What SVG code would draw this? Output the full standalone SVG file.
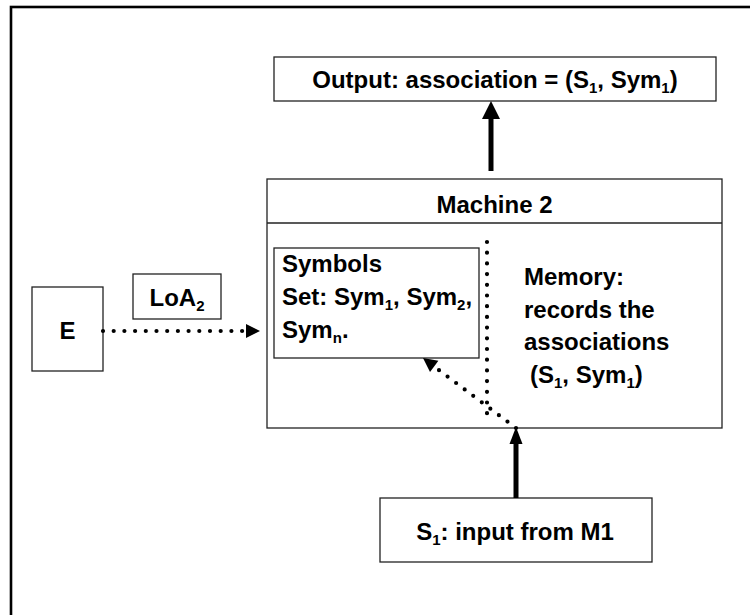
<svg xmlns="http://www.w3.org/2000/svg" width="750" height="615" viewBox="0 0 750 615">
<style>
.box{fill:#fff;stroke:#222;stroke-width:1.3}
.t{font-family:"Liberation Sans",Arial,sans-serif;font-weight:bold;font-size:24px;fill:#000}
.s{font-size:15px}
.dot{fill:none;stroke:#000;stroke-width:4.2;stroke-linecap:round;stroke-dasharray:0 10.7}
.thick{fill:none;stroke:#000;stroke-width:5}
</style>
<rect width="750" height="615" fill="#fff"/>
<rect x="11" y="7" width="770" height="640" fill="none" stroke="#000" stroke-width="2.6"/>

<g id="output">
<rect class="box" x="274" y="57" width="442" height="44"/>
<text class="t" x="495" y="88" text-anchor="middle">Output: association = (S<tspan class="s" dy="5">1</tspan><tspan dy="-5">, Sym</tspan><tspan class="s" dy="5">1</tspan><tspan dy="-5">)</tspan></text>
</g>

<g id="machine2">
<rect class="box" x="267" y="179" width="455" height="249"/>
<line x1="267" y1="223" x2="722" y2="223" stroke="#222" stroke-width="1.3"/>
<text class="t" x="494.5" y="213" text-anchor="middle">Machine 2</text>
</g>

<g id="symbols">
<rect class="box" x="274" y="248" width="205" height="110"/>
<text class="t" x="282" y="272">Symbols</text>
<text class="t" x="282" y="305">Set: Sym<tspan class="s" dy="5">1</tspan><tspan dy="-5">, Sym</tspan><tspan class="s" dy="5">2</tspan><tspan dy="-5">,</tspan></text>
<text class="t" x="282" y="338">Sym<tspan class="s" dy="5">n</tspan><tspan dy="-5">.</tspan></text>
</g>

<g id="memory">
<text class="t" x="524" y="285">Memory:</text>
<text class="t" x="524" y="318">records the</text>
<text class="t" x="524" y="350">associations</text>
<text class="t" x="530" y="383">(S<tspan class="s" dy="5">1</tspan><tspan dy="-5">, Sym</tspan><tspan class="s" dy="5">1</tspan><tspan dy="-5">)</tspan></text>
</g>

<g id="E">
<rect class="box" x="32" y="287" width="71" height="84"/>
<text class="t" x="67.5" y="339" text-anchor="middle">E</text>
</g>

<g id="LoA2">
<rect class="box" x="133" y="274" width="88" height="45"/>
<text class="t" x="177" y="306" text-anchor="middle">LoA<tspan class="s" dy="5">2</tspan></text>
</g>

<g id="input">
<rect class="box" x="380" y="498" width="272" height="64"/>
<text class="t" x="515" y="540" text-anchor="middle">S<tspan class="s" dy="5">1</tspan><tspan dy="-5">: input from M1</tspan></text>
</g>

<g id="connectors">
<line class="thick" x1="491" y1="171" x2="491" y2="116"/>
<polygon points="491,101 482,119 500,119" fill="#000"/>
<line class="thick" x1="516" y1="498" x2="516" y2="440"/>
<polygon points="516,427 509.5,444 522.5,444" fill="#000"/>
<line class="dot" x1="103" y1="331" x2="248" y2="331"/>
<polygon points="260,331 246,324 246,338" fill="#000"/>
<line class="dot" x1="487" y1="242" x2="487" y2="421"/>
<line class="dot" x1="516" y1="428" x2="434" y2="366.4"/>
<polygon points="423,358 438.4,360.8 430,372" fill="#000"/>
</g>
</svg>
